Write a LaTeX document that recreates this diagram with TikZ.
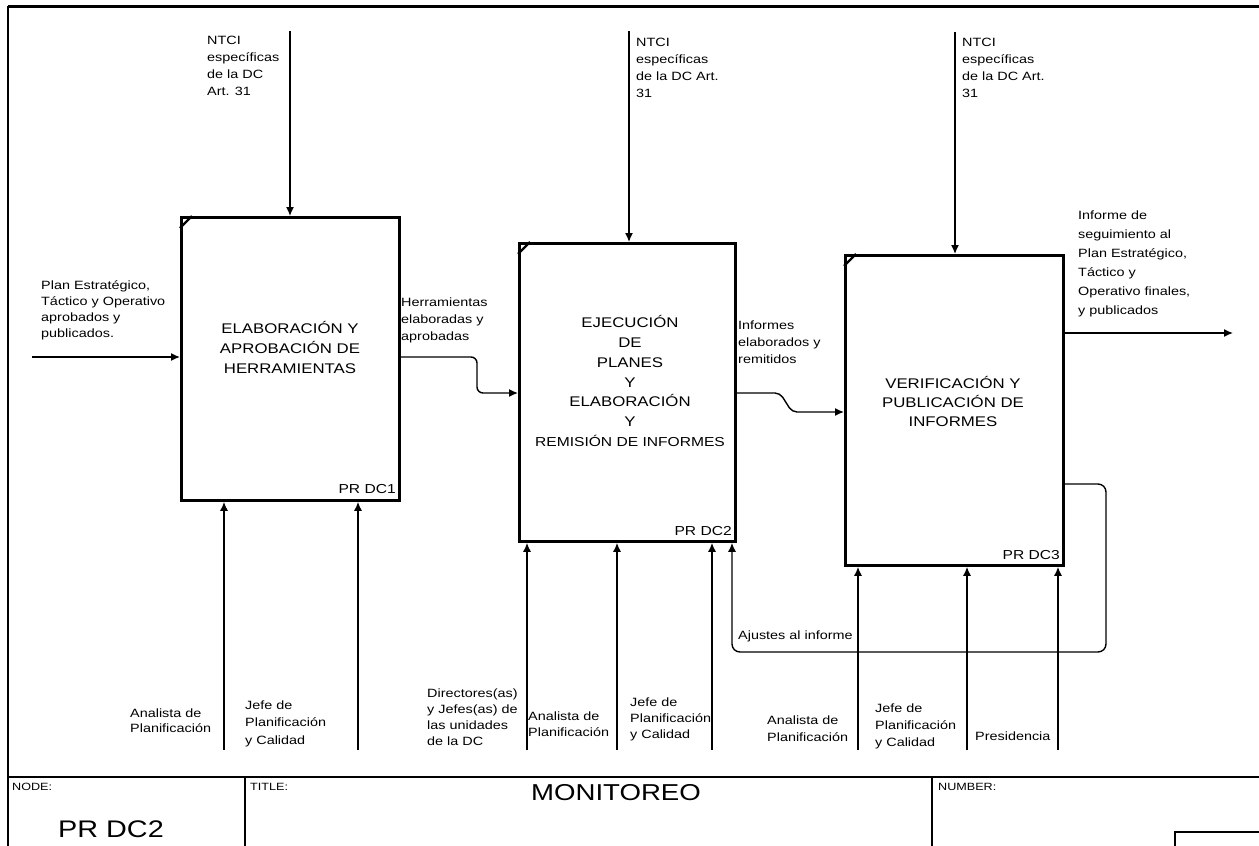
\documentclass[tikz,border=0pt]{standalone}
\usepackage{fontspec}
\setmainfont{Liberation Sans}[FakeStretch=1.2]
\usetikzlibrary{arrows.meta}
\begin{document}
\begin{tikzpicture}[x=1pt,y=-1pt,
  box/.style={draw, line width=2.8pt, inner sep=0pt, anchor=north west},
  lbl/.style={font=\fontsize{12}{17}\selectfont, align=left, inner sep=0pt, anchor=north west},
  boxtxt/.style={font=\fontsize{14}{20}\selectfont, align=center, inner sep=0pt},
  tag/.style={font=\fontsize{13}{15}\selectfont, inner sep=0pt, anchor=base east},
  arr/.style={line width=1.4pt, -{Latex[length=9pt,width=8pt]}},
  frame/.style={line width=1.8pt},
  small/.style={font=\fontsize{10.5}{12}\selectfont, inner sep=0pt, anchor=north west}]
\useasboundingbox (0,0) rectangle (1259,846);
\fill[white] (0,0) rectangle (1259,846);
% frame and title block
\draw[line width=3pt] (8,6) -- (1262,6);
\draw[frame] (8,6) -- (8,850);
\draw[frame] (8,777) -- (1262,777);
\draw[frame] (245,777) -- (245,850);
\draw[frame] (932,777) -- (932,850);
\draw[line width=1.4pt] (1175,850) -- (1175,832) -- (1262,832);
\node[small] (nodel) at (12,783) {NODE:};
\node[small] (titlel) at (250,783) {TITLE:};
\node[small] (numl) at (938,783) {NUMBER:};
\node[font=\fontsize{24}{26}\selectfont, inner sep=0pt] (nodeid) at (111,829) {PR DC2};
\node[font=\fontsize{23}{26}\selectfont, inner sep=0pt] (title) at (616,793) {MONITOREO};
% boxes
\node[box, minimum width=218pt, minimum height=283pt] (b1) at (180,216) {};
\node[box, minimum width=216pt, minimum height=298pt] (b2) at (518,242) {};
\node[box, minimum width=218pt, minimum height=310pt] (b3) at (844,254) {};
\foreach \b in {b1,b2,b3}{
  \draw[line width=2.2pt] ([yshift=-12pt]\b.north west) -- ([xshift=12pt]\b.north west);
}
\node[boxtxt] (b1t) at (290,347) {ELABORACIÓN Y\\APROBACIÓN DE\\HERRAMIENTAS};
\node[boxtxt, font=\fontsize{14}{19.7}\selectfont] (b2t) at (630,381) {EJECUCIÓN\\DE\\PLANES\\Y\\ELABORACIÓN\\Y\\{\fontsize{13}{19.7}\selectfont REMISIÓN DE INFORMES}};
\node[boxtxt, font=\fontsize{14}{19}\selectfont] (b3t) at (953,401) {VERIFICACIÓN Y\\PUBLICACIÓN DE\\INFORMES};
\node[tag] (t1) at (396,493) {PR DC1};
\node[tag] (t2) at (732,535) {PR DC2};
\node[tag] (t3) at (1060,559) {PR DC3};
% controls from top
\coordinate (c1) at (290,31);
\coordinate (c2) at (629,31);
\coordinate (c3) at (955,32);
\draw[arr] (c1) -- (c1 |- b1.north);
\draw[arr] (c2) -- (c2 |- b2.north);
\draw[arr] (c3) -- (c3 |- b3.north);
\node[lbl] (n1) at (207,35.5) {NTCI\\específicas\\de la DC\\Art. 31};
\node[lbl] (n2) at (636,37.5) {NTCI\\específicas\\de la DC Art.\\31};
\node[lbl] (n3) at (962,37.5) {NTCI\\específicas\\de la DC Art.\\31};
% input
\coordinate (in0) at (32,357);
\draw[arr] (in0) -- (in0 -| b1.west);
\node[lbl, font=\fontsize{12}{16}\selectfont] (inl) at (41,280.5) {Plan Estratégico,\\Táctico y Operativo\\aprobados y\\publicados.};
% box1 -> box2
\coordinate (k1) at (477,357);
\coordinate (k2) at (477,393);
\draw[arr, rounded corners=6pt] (k1 -| b1.east) -- (k1) -- (k2) -- (k2 -| b2.west);
\node[lbl] (hl) at (401,297.5) {Herramientas\\elaboradas y\\aprobadas};
% box2 -> box3
\coordinate (m1) at (780,393);
\coordinate (m2) at (792,412);
\draw[arr, rounded corners=5pt] (m1 -| b2.east) -- (m1) -- (m2) -- (m2 -| b3.west);
\node[lbl] (il) at (738,320.5) {Informes\\elaborados y\\remitidos};
% output
\coordinate (out0) at (1233,333);
\draw[arr] (out0 -| b3.east) -- (out0);
\node[lbl, font=\fontsize{12}{19}\selectfont] (outl) at (1078,210.5) {Informe de\\seguimiento al\\Plan Estratégico,\\Táctico y\\Operativo finales,\\y publicados};
% feedback
\coordinate (fb0) at (1106,484);
\coordinate (fb1) at (732,652);
\draw[arr, rounded corners=8pt] (fb0 -| b3.east) -- (fb0) -- (fb0 |- fb1) -- (fb1) -- (fb1 |- b2.south);
\node[lbl] (ajl) at (738,630.5) {Ajustes al informe};
% mechanisms
\coordinate (d1) at (224,750);
\coordinate (d2) at (358,750);
\coordinate (d3) at (527,750);
\coordinate (d4) at (617,750);
\coordinate (d5) at (712,750);
\coordinate (d6) at (858,750);
\coordinate (d7) at (967,750);
\coordinate (d8) at (1058,750);
\draw[arr] (d1) -- (d1 |- b1.south);
\draw[arr] (d2) -- (d2 |- b1.south);
\draw[arr] (d3) -- (d3 |- b2.south);
\draw[arr] (d4) -- (d4 |- b2.south);
\draw[arr] (d5) -- (d5 |- b2.south);
\draw[arr] (d6) -- (d6 |- b3.south);
\draw[arr] (d7) -- (d7 |- b3.south);
\draw[arr] (d8) -- (d8 |- b3.south);
\node[lbl, font=\fontsize{12}{15}\selectfont] (a1) at (130,708.5) {Analista de\\Planificación};
\node[lbl, font=\fontsize{12}{17.5}\selectfont] (j1) at (245,700.5) {Jefe de\\Planificación\\y Calidad};
\node[lbl, font=\fontsize{12}{16}\selectfont] (dl) at (427,688.5) {Directores(as)\\y Jefes(as) de\\las unidades\\de la DC};
\node[lbl, font=\fontsize{12}{16}\selectfont] (a2) at (528,711.5) {Analista de\\Planificación};
\node[lbl, font=\fontsize{12}{16}\selectfont] (j2) at (630,697.5) {Jefe de\\Planificación\\y Calidad};
\node[lbl, font=\fontsize{12}{17}\selectfont] (a3) at (767,715.5) {Analista de\\Planificación};
\node[lbl, font=\fontsize{12}{17}\selectfont] (j3) at (875,703.5) {Jefe de\\Planificación\\y Calidad};
\node[lbl] (pl) at (975,731.5) {Presidencia};
\end{tikzpicture}
\end{document}
